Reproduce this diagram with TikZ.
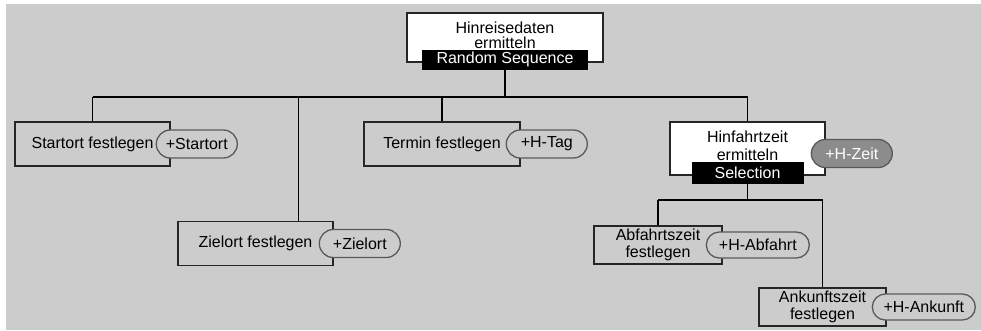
\documentclass[tikz,border=0pt]{standalone}
\usepackage{fontspec}
\setmainfont{Liberation Sans}
\usepackage{tikz}
\usetikzlibrary{shapes.misc}
\usetikzlibrary{positioning}
\colorlet{canvas}{black!20}
\colorlet{frame}{black!85}
\newcommand\taskheight{44pt}
\newcommand\propwidth{85pt}
\newcommand\propshift{-15pt}
\newcommand\labelfont{\fontsize{16}{17}\selectfont}
\tikzset{
    link/.style = {line width=1.2pt, black},
    task/.style = {draw=frame, fill=canvas, line width=1.3pt, minimum height=\taskheight, align=center, inner sep=2pt, font=\labelfont},
    root/.style = {task, fill=white},
    prop/.style = {draw=black!65, fill=canvas, line width=1.3pt, rounded rectangle, minimum width=\propwidth, minimum height=28pt, inner sep=2pt, anchor=west, font=\labelfont},
    active/.style = {fill=black!45, text=white},
    deco/.style = {fill=black, text=white, inner sep=0pt, font=\labelfont},
}
\begin{document}
\begin{tikzpicture}[x=1pt,y=-1pt]
    \useasboundingbox (0,0) rectangle (981,330);
    \fill[white] (0,0) rectangle (981,330);
    \fill[canvas] (6,4) rectangle (981,330);
    \coordinate (bus) at (0,97);
    \coordinate (subbus) at (0,200);

    % tasks
    \node[root, minimum width=196pt, minimum height=49pt, text depth=5pt] (hinreise) at (505,37.5) {Hinreisedaten\\[-2pt]ermitteln};
    \node[task, minimum width=155pt] (start) at (92.5,144) {Startort festlegen};
    \node[task, minimum width=155pt] (ziel) at (255.5,243.5) {Zielort festlegen};
    \node[task, minimum width=156pt] (termin) at (442,144) {Termin festlegen};
    \node[root, minimum width=155pt, minimum height=53pt, text depth=6pt] (hinfahrt) at (747.5,148.5) {Hinfahrtzeit\\[1pt]ermitteln};
    \node[task, minimum width=128pt, minimum height=38pt] (abfahrt) at (658,245) {Abfahrtszeit\\festlegen};
    \node[task, minimum width=127pt, minimum height=38pt] (ankunft) at (822.5,307) {Ankunftszeit\\festlegen};

    % decorators
    \node[deco, minimum width=166pt, minimum height=20pt] (hinreisedeco) at ([yshift=3pt]hinreise.south) {Random Sequence};
    \node[deco, minimum width=112pt, minimum height=22pt] (hinfahrtdeco) at ([yshift=3pt]hinfahrt.south) {Selection};

    % properties
    \node[prop] (startprop) at ([xshift=\propshift]start.east) {+Startort};
    \node[prop] (zielprop) at ([xshift=\propshift]ziel.east) {+Zielort};
    \node[prop] (terminprop) at ([xshift=\propshift]termin.east) {+H-Tag};
    \node[prop, active] (hinfahrtprop) at ([xshift=\propshift,yshift=-5pt]hinfahrt.east) {+H-Zeit};
    \node[prop, minimum width=107pt, minimum height=26pt] (abfahrtprop) at ([xshift=-17pt]abfahrt.east) {+H-Abfahrt};
    \node[prop, minimum width=107pt, minimum height=26pt] (ankunftprop) at ([xshift=\propshift]ankunft.east) {+H-Ankunft};

    % tree
    \draw[link] (hinreisedeco.south) -- (hinreisedeco.south |- bus);
    \draw[link] (start.north |- bus) -- (hinfahrt.north |- bus);
    \draw[link] (start.north) -- (start.north |- bus);
    \draw[link] ([xshift=43pt]ziel.north) -- ([xshift=43pt]ziel.north |- bus);
    \draw[link] (termin.north) -- (termin.north |- bus);
    \draw[link] (hinfahrt.north) -- (hinfahrt.north |- bus);
    \draw[link] (hinfahrtdeco.south) -- (hinfahrtdeco.south |- subbus);
    \draw[link] (abfahrt.north |- subbus) -- (ankunft.north |- subbus);
    \draw[link] (abfahrt.north) -- (abfahrt.north |- subbus);
    \draw[link] (ankunft.north) -- (ankunft.north |- subbus);
\end{tikzpicture}
\end{document}
